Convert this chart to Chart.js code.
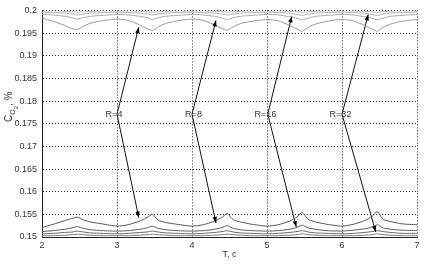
<!DOCTYPE html>
<html>
<head>
<meta charset="utf-8">
<script src="https://cdn.jsdelivr.net/npm/chart.js@4/dist/chart.umd.min.js"></script>
<style>
  html, body { margin:0; padding:0; background:#fff; }
  #wrap { width:429px; height:264px; }
</style>
</head>
<body>
<div id="wrap"><canvas id="c"></canvas></div>
<script>
// time, s
const T = [
  2, 2.15, 2.3, 2.4, 2.47, 2.55, 2.65, 2.8,
  3, 3.15, 3.3, 3.4, 3.47, 3.55, 3.65, 3.8,
  4, 4.15, 4.3, 4.4, 4.47, 4.55, 4.65, 4.8,
  5, 5.15, 5.3, 5.4, 5.47, 5.55, 5.65, 5.8,
  6, 6.15, 6.3, 6.4, 6.47, 6.55, 6.65, 6.8,
  7
];

// upper group (light gray)
const topA = [
  0.1983,0.1976,0.1967,0.1960,0.1957,0.1965,0.1972,0.1977,
  0.1981,0.1978,0.1968,0.1960,0.1955,0.1964,0.1971,0.1977,
  0.1981,0.1978,0.1968,0.1960,0.1956,0.1964,0.1971,0.1976,
  0.1980,0.1977,0.1967,0.1959,0.1954,0.1963,0.1970,0.1976,
  0.1980,0.1977,0.1967,0.1959,0.1954,0.1963,0.1970,0.1976,
  0.1980
];
const topB = [
  0.1991,0.1990,0.1987,0.1984,0.1981,0.1984,0.1987,0.1989,
  0.1991,0.1990,0.1987,0.1984,0.1980,0.1984,0.1987,0.1989,
  0.1991,0.1990,0.1987,0.1983,0.1980,0.1984,0.1987,0.1989,
  0.1991,0.1990,0.1986,0.1983,0.1979,0.1983,0.1987,0.1989,
  0.1991,0.1990,0.1986,0.1983,0.1979,0.1983,0.1987,0.1989,
  0.1991
];
const topC = [
  0.1996,0.1995,0.1994,0.1992,0.1990,0.1992,0.1994,0.1995,
  0.1996,0.1995,0.1994,0.1992,0.1990,0.1992,0.1994,0.1995,
  0.1996,0.1995,0.1994,0.1992,0.1990,0.1992,0.1994,0.1995,
  0.1996,0.1995,0.1994,0.1991,0.1989,0.1992,0.1994,0.1995,
  0.1996,0.1995,0.1994,0.1991,0.1989,0.1992,0.1994,0.1995,
  0.1996
];
const topD = [
  0.1999,0.1999,0.1998,0.1997,0.1996,0.1997,0.1998,0.1999,
  0.1999,0.1999,0.1998,0.1997,0.1996,0.1997,0.1998,0.1999,
  0.1999,0.1999,0.1998,0.1997,0.1996,0.1997,0.1998,0.1999,
  0.1999,0.1999,0.1998,0.1997,0.1996,0.1997,0.1998,0.1999,
  0.1999,0.1999,0.1998,0.1997,0.1996,0.1997,0.1998,0.1999,
  0.1999
];

// lower group (dark gray)
const botA = [
  0.1521,0.1528,0.1536,0.1541,0.1544,0.1538,0.1533,0.1529,
  0.1524,0.1527,0.1535,0.1543,0.1550,0.1537,0.1532,0.1528,
  0.1524,0.1527,0.1535,0.1543,0.1552,0.1538,0.1533,0.1528,
  0.1524,0.1527,0.1535,0.1544,0.1554,0.1539,0.1533,0.1528,
  0.1524,0.1528,0.1536,0.1545,0.1556,0.1539,0.1534,0.1529,
  0.1527
];
const botB = [
  0.1512,0.1514,0.1517,0.1520,0.1523,0.1519,0.1516,0.1514,
  0.1513,0.1514,0.1517,0.1520,0.1524,0.1519,0.1516,0.1514,
  0.1513,0.1514,0.1517,0.1521,0.1525,0.1519,0.1516,0.1514,
  0.1513,0.1514,0.1517,0.1521,0.1526,0.1520,0.1517,0.1514,
  0.1513,0.1515,0.1518,0.1522,0.1527,0.1520,0.1517,0.1515,
  0.1514
];
const botC = [
  0.1507,0.1508,0.1510,0.1511,0.1513,0.1511,0.1509,0.1508,
  0.1507,0.1508,0.1510,0.1511,0.1513,0.1511,0.1509,0.1508,
  0.1507,0.1508,0.1510,0.1512,0.1514,0.1511,0.1509,0.1508,
  0.1507,0.1508,0.1510,0.1512,0.1514,0.1511,0.1509,0.1508,
  0.1507,0.1508,0.1510,0.1512,0.1514,0.1512,0.1510,0.1508,
  0.1508
];
const botD = [
  0.1503,0.1503,0.1504,0.1505,0.1506,0.1505,0.1504,0.1503,
  0.1503,0.1503,0.1504,0.1505,0.1506,0.1505,0.1504,0.1503,
  0.1503,0.1503,0.1504,0.1505,0.1506,0.1505,0.1504,0.1503,
  0.1503,0.1503,0.1504,0.1505,0.1507,0.1505,0.1504,0.1503,
  0.1503,0.1503,0.1504,0.1505,0.1507,0.1505,0.1504,0.1503,
  0.1503
];

// annotations
const labels = ["R=4", "R=8", "R=16", "R=32"];
const labelT = [2.96, 4.02, 4.98, 5.98];
const labelC = [0.1771, 0.1771, 0.1771, 0.1771];
const arrowStartT = [3.0, 4.0, 5.01, 6.0];
const upTipT = [3.29, 4.32, 5.33, 6.35];
const upTipC = [0.1963, 0.1978, 0.1987, 0.1991];
const downTipT = [3.29, 4.32, 5.39, 6.45];
const downTipC = [0.1543, 0.1531, 0.1522, 0.1511];

const xTicks = [2, 3, 4, 5, 6, 7];
const yTicks = [0.15, 0.155, 0.16, 0.165, 0.17, 0.175, 0.18, 0.185, 0.19, 0.195, 0.2];

const FONT = "'Liberation Sans', Arial, sans-serif";
const pts = arr => T.map((t, i) => ({x: t, y: arr[i]}));

function curve(arr, color){
  return { data: pts(arr), borderColor: color, borderWidth: 1, pointRadius: 0, tension: 0.2, fill: false };
}

const datasets = [
  curve(topA, "#9a9a9a"), curve(topB, "#a8a8a8"), curve(topC, "#b0b0b0"), curve(topD, "#b8b8b8"),
  curve(botA, "#555"), curve(botB, "#5a5a5a"), curve(botC, "#666"), curve(botD, "#777")
];

labels.forEach((l, i)=>{
  const start = {x: arrowStartT[i], y: labelC[i]};
  datasets.push({ arrow:true, data:[start, {x: upTipT[i], y: upTipC[i]}], borderColor:"#111", borderWidth:1, pointRadius:0 });
  datasets.push({ arrow:true, data:[start, {x: downTipT[i], y: downTipC[i]}], borderColor:"#111", borderWidth:1, pointRadius:0 });
});

/* arrowheads, R labels, axis titles */
const annot = {
  id: "annot",
  afterDatasetsDraw(chart){
    const ctx = chart.ctx;
    const xs = chart.scales.x, ys = chart.scales.y;
    ctx.save();
    chart.data.datasets.forEach((ds, di)=>{
      if(!ds.arrow) return;
      const m = chart.getDatasetMeta(di).data;
      const a = m[0], b = m[1];
      const ang = Math.atan2(b.y - a.y, b.x - a.x);
      const L = 6, W = 2.2;
      ctx.fillStyle = "#000";
      ctx.beginPath();
      ctx.moveTo(b.x, b.y);
      ctx.lineTo(b.x - L*Math.cos(ang) + W*Math.sin(ang), b.y - L*Math.sin(ang) - W*Math.cos(ang));
      ctx.lineTo(b.x - L*Math.cos(ang) - W*Math.sin(ang), b.y - L*Math.sin(ang) + W*Math.cos(ang));
      ctx.closePath();
      ctx.fill();
    });

    ctx.fillStyle = "#333";
    ctx.font = "9px " + FONT;
    ctx.textAlign = "center";
    ctx.textBaseline = "middle";
    labels.forEach((l, i)=>{
      ctx.fillText(l, xs.getPixelForValue(labelT[i]), ys.getPixelForValue(labelC[i]));
    });

    // x title
    ctx.fillText("T, c", (xs.left + xs.right)/2, 255);

    // y title, rotated: C  O 2 , %
    ctx.translate(9, 122);
    ctx.rotate(-Math.PI/2);
    ctx.textAlign = "left";
    ctx.textBaseline = "alphabetic";
    ctx.font = "10px " + FONT;
    let x = 0;
    ctx.fillText("C", x, 3); x += ctx.measureText("C").width;
    ctx.font = "7px " + FONT;
    ctx.fillText("O", x, 6); x += ctx.measureText("O").width;
    ctx.font = "6px " + FONT;
    ctx.fillText("2", x, 9); x += ctx.measureText("2").width;
    ctx.font = "10px " + FONT;
    ctx.fillText(", %", x, 3);
    ctx.restore();
  }
};

new Chart(document.getElementById("c"), {
  type: "line",
  data: { datasets },
  options: {
    responsive: true,
    maintainAspectRatio: false,
    animation: false,
    layout: { padding: { top: 8, right: 12, left: 0, bottom: 0 } },
    plugins: { legend: { display: false }, tooltip: { enabled: false } },
    scales: {
      x: {
        type: "linear", min: 2, max: 7,
        afterBuildTicks: s => { s.ticks = xTicks.map(v => ({value: v})); },
        afterFit: s => { s.height = 27; },
        grid: { color: "#222", lineWidth: 1, drawTicks: false },
        border: { display: true, color: "#222", width: 1, dash: [1, 2] },
        ticks: { color: "#333", font: { family: FONT, size: 9 }, padding: 3, callback: v => String(v) }
      },
      y: {
        type: "linear", min: 0.15, max: 0.2,
        afterBuildTicks: s => { s.ticks = yTicks.map(v => ({value: v})); },
        afterFit: s => { s.width = 42; },
        grid: { color: "#222", lineWidth: 1, drawTicks: false },
        border: { display: true, color: "#222", width: 1, dash: [1, 2] },
        ticks: { color: "#333", font: { family: FONT, size: 9 }, padding: 5,
          callback: v => String(+v.toFixed(3)) }
      }
    }
  },
  plugins: [annot]
});
</script>
</body>
</html>
